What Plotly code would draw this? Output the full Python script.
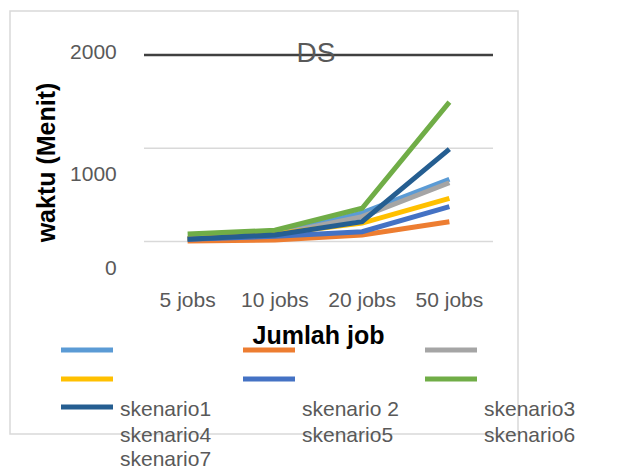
import plotly.graph_objects as go

categories = ["5 jobs", "10 jobs", "20 jobs", "50 jobs"]
series_names = ["skenario1", "skenario 2", "skenario3", "skenario4", "skenario5", "skenario6", "skenario7"]
colors = ["#5B9BD5", "#ED7D31", "#A5A5A5", "#FFC000", "#4472C4", "#70AD47", "#255E91"]
values = [
    [30, 75, 306, 667],
    [5, 15, 70, 212],
    [30, 75, 266, 630],
    [30, 80, 197, 463],
    [25, 55, 105, 374],
    [80, 120, 356, 1494],
    [24, 70, 212, 990],
]
grid_values = [0, 1000, 2000]
ytick_labels = ["0", "1000", "2000"]
ytick_positions = [-284, 724, 2032]  # where the labels sit in the reference

OFF = 8  # page body margin offset
W, H = 620 - OFF, 469 - OFF
# plot area in reference page pixels: x 144..493, y 40..285
L, R, T, B = 144 - OFF, 620 - 493, 40 - OFF, 469 - 285
FONT = "Liberation Sans"
GREY = "#595959"
PW, PH = W - L - R, H - T - B

def px_x(x):
    return (x - OFF - L) / PW

def px_y(y):
    return (H - B - (y - OFF)) / PH

fig = go.Figure()
for name, col, vals in zip(series_names, colors, values):
    fig.add_trace(go.Scatter(x=categories, y=vals, name=name, mode="lines",
                             line=dict(color=col, width=5), showlegend=False))

shapes = []
for g in grid_values:
    dark = g == grid_values[-1]
    shapes.append(dict(type="line", xref="paper", yref="y", x0=0, x1=1, y0=g, y1=g,
                       line=dict(color="#404040" if dark else "#D9D9D9", width=2.5 if dark else 1.5),
                       layer="below"))
shapes.append(dict(type="rect", xref="paper", yref="paper",
                   x0=px_x(10), x1=px_x(518), y0=px_y(434), y1=px_y(11),
                   line=dict(color="#D9D9D9", width=1.5), layer="below"))

annotations = []
sym_cols = [61, 243, 425]
sym_rows = [350, 379, 407]
for i, col in enumerate(colors):
    r, c = divmod(i, 3)
    shapes.append(dict(type="line", xref="paper", yref="paper",
                       x0=px_x(sym_cols[c]), x1=px_x(sym_cols[c] + 52),
                       y0=px_y(sym_rows[r]), y1=px_y(sym_rows[r]),
                       line=dict(color=col, width=5)))
txt_cols = [118, 300, 482]
txt_rows = [408, 434, 458]
for i, name in enumerate(series_names):
    r, c = divmod(i, 3)
    annotations.append(dict(x=px_x(txt_cols[c]), y=px_y(txt_rows[r]), xref="paper", yref="paper",
                            text=name, showarrow=False, xanchor="left", yanchor="middle",
                            font=dict(family=FONT, size=21, color=GREY)))

fig.update_layout(
    width=W, height=H,
    margin=dict(l=L, r=R, t=T, b=B),
    paper_bgcolor="white", plot_bgcolor="white",
    title=dict(text="DS", x=px_x(316), xref="paper", xanchor="center",
               y=1 - (52 - OFF) / H, yanchor="middle", font=dict(family=FONT, size=28, color=GREY)),
    xaxis=dict(type="category", range=[-0.5, 3.5], showgrid=False, showline=False, zeroline=False,
               ticks="", tickfont=dict(family=FONT, size=21, color=GREY),
               title=dict(text="<b>Jumlah job</b>", font=dict(family=FONT, size=25, color="black"), standoff=16)),
    yaxis=dict(range=[-467, 2161], showgrid=False, zeroline=False, showline=False,
               tickmode="array", tickvals=ytick_positions, ticktext=ytick_labels,
               ticks="outside", ticklen=22, tickcolor="rgba(0,0,0,0)",
               tickfont=dict(family=FONT, size=21, color=GREY),
               title=dict(text="<b>waktu (Menit)</b>", font=dict(family=FONT, size=25, color="black"), standoff=7)),
    shapes=shapes, annotations=annotations,
    showlegend=False,
)

fig.write_html("out.html")
